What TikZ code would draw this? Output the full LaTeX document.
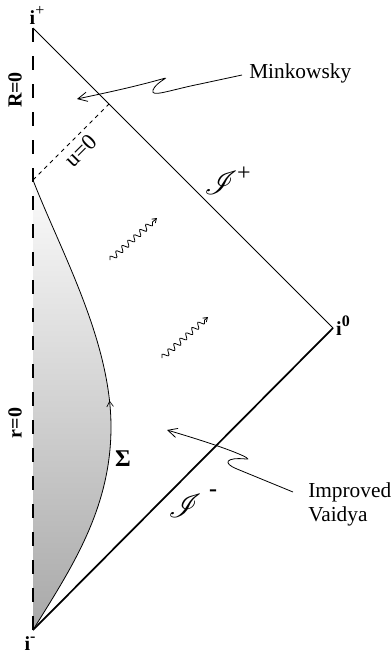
\documentclass[tikz,border=0pt]{standalone}
\usepackage{fontspec}
\setmainfont{Liberation Serif}
\usepackage{mathrsfs}
\usetikzlibrary{arrows.meta,decorations.pathmorphing,decorations.markings}
\begin{document}
\begin{tikzpicture}[x=0.75pt,y=-0.75pt,
  lbl/.style={font=\fontsize{16}{18}\selectfont},
  blbl/.style={font=\fontsize{15}{18}\selectfont\bfseries},
  scri/.style={font=\fontsize{24}{26}\selectfont},
  thinline/.style={line width=0.6pt},
  thickline/.style={line width=1.3pt},
  axisdash/.style={line width=2.2pt, dash pattern=on 10.5pt off 10.5pt},
  udash/.style={line width=0.6pt, dash pattern=on 3pt off 3pt},
  barb/.style={-{Straight Barb[length=7pt,width=7pt,line width=0.6pt]}, line width=0.6pt},
  wave/.style={line width=0.6pt, -{Straight Barb[length=3pt,width=4pt]},
    decorate, decoration={snake, amplitude=2.1pt, segment length=6pt, post length=2pt}}
]
\useasboundingbox (0,0) rectangle (391,657);
% key points
\coordinate (iplus) at (33,28);
\coordinate (izero) at (333,328);
\coordinate (iminus) at (33,630);
\coordinate (ustart) at (33,180);
\coordinate (uend) at (109,104);
\coordinate (sigmax) at (111,427);
% shaded region
\shade[top color=gray!3, bottom color=gray!68]
  (ustart) .. controls (60,250) and (111,340) .. (sigmax)
  .. controls (111,510) and (70,570) .. (iminus) -- cycle;
% curve Sigma
\draw[thinline, postaction={decorate}, decoration={markings,
  mark=at position 0.5 with {\arrow{Straight Barb[length=4pt,width=5pt,line width=0.5pt,reversed]}}}]
  (ustart) .. controls (60,250) and (111,340) .. (sigmax)
  .. controls (111,510) and (70,570) .. (iminus);
% left axis
\draw[axisdash] (iplus) -- (iminus);
% scri lines
\draw[thinline] (iplus) -- (izero);
\draw[thickline] (izero) -- (iminus);
% u=0
\draw[udash] (ustart) -- (uend);
\node[lbl, rotate=45, inner sep=0pt, font=\fontsize{17}{18}\selectfont] (ulab) at (81,151) {u=0};
% labels of points
\node[blbl, inner sep=0pt] (ip) at (37,15) {i\raisebox{0.45em}{\fontsize{12}{12}\selectfont\mdseries +}};
\node[blbl, inner sep=0pt] (iz) at (343,326) {i\raisebox{0.45em}{\fontsize{12}{12}\selectfont 0}};
\node[blbl, inner sep=0pt] (im) at (30,644) {i\raisebox{0.45em}{\fontsize{12}{12}\selectfont -}};
\node[blbl, rotate=90] (R0) at (15,90) {R=0};
\node[blbl, rotate=90] (r0) at (15,423) {r=0};
\node[blbl, font=\fontsize{18}{20}\selectfont\bfseries] (sig) at (123,459) {Σ};
% scri labels
\node[scri, inner sep=0pt] (sp) at (221,183) {$\mathscr{I}$};
\node[lbl, inner sep=0pt, font=\fontsize{18}{20}\selectfont] (spp) at (244,174) {+};
\node[scri, inner sep=0pt] (sm) at (185,506) {$\mathscr{I}$};
\node[blbl, inner sep=0pt, font=\fontsize{18}{20}\selectfont\bfseries] (smm) at (213,493) {-};
% wavy arrows
\coordinate (w1a) at (110,260); \coordinate (w1b) at (157,218);
\coordinate (w2a) at (162,358); \coordinate (w2b) at (208,317);
\draw[wave] (w1a) -- (w1b);
\draw[wave] (w2a) -- (w2b);
% Minkowsky label and arrow
\node[lbl, anchor=west, inner sep=0pt] (mink) at (249,73) {Minkowsky};
\coordinate (mtip) at (77,99);
\draw[barb] (242,75) -- (200,84) .. controls (170,90) and (150,98) .. (153,90)
  .. controls (156,82) and (172,76) .. (162,79) .. controls (130,88) and (100,94) .. (mtip);
% Improved Vaidya label and arrow
\node[lbl, anchor=north west, align=left, inner sep=0pt] (vai) at (308,482) {Improved\\Vaidya};
\coordinate (vtip) at (167,430);
\draw[barb] (293,492) -- (237,469) .. controls (222,463) and (226,457) .. (246,459)
  .. controls (254,460) and (235,450) .. (vtip);
\end{tikzpicture}
\end{document}
